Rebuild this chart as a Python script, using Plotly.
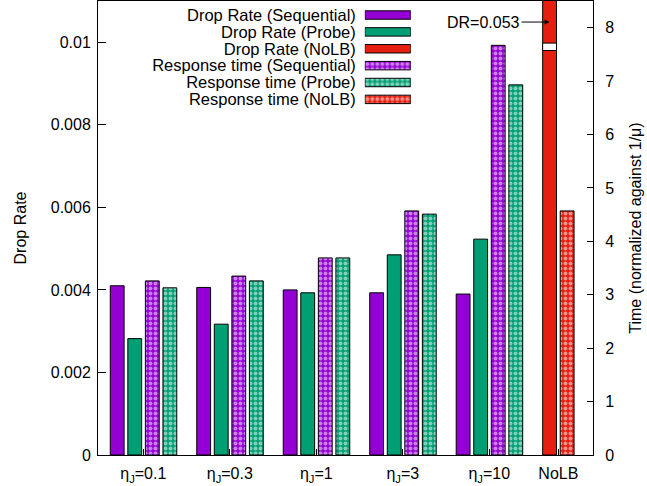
import plotly.graph_objects as go

# ---------------- data ----------------
eta_labels = ["η<sub>J</sub>=0.1", "η<sub>J</sub>=0.3", "η<sub>J</sub>=1",
              "η<sub>J</sub>=3", "η<sub>J</sub>=10"]
nolb_label = "NoLB"
dr_seq = [0.0041, 0.00406, 0.0040, 0.00393, 0.0039]
dr_probe = [0.00282, 0.00317, 0.00393, 0.00485, 0.00523]
rt_seq = [3.26, 3.35, 3.69, 4.57, 7.67]
rt_probe = [3.13, 3.26, 3.69, 4.51, 6.93]
dr_nolb = [0.053]
rt_nolb = [4.57]
dr_nolb_text = "DR=0.053"
legend_names = ["Drop Rate (Sequential)", "Drop Rate (Probe)", "Drop Rate (NoLB)",
                "Response time (Sequential)", "Response time (Probe)",
                "Response time (NoLB)"]
left_tickvals = [0, 0.002, 0.004, 0.006, 0.008, 0.01]
left_ticktext = ["0", "0.002", "0.004", "0.006", "0.008", "0.01"]
right_tickvals = [0, 1, 2, 3, 4, 5, 6, 7, 8]

# ---------------- style ----------------
PURPLE = "#9400D3"
GREEN = "#009E73"
RED = "#E51E10"
FONT = "Liberation Sans, Arial, Helvetica, sans-serif"
SLOT = 0.203
BW = 0.16
START = -0.382


def off(i):
    return START + i * SLOT


x_eta = list(range(len(eta_labels)))
x_nolb = [len(eta_labels)]
nolb_tick = x_nolb[0] + (off(0) + off(1)) / 2 + BW / 2


def solid(c):
    return dict(color=c, line=dict(color="black", width=1))


def patterned(c):
    return dict(color=c, line=dict(color="black", width=1),
                pattern=dict(shape=".", fgcolor="white", bgcolor=c,
                             size=5, solidity=0.5, fillmode="overlay"))


fig = go.Figure()
series = [
    (x_eta, dr_seq, 0, "y", solid(PURPLE), legend_names[0]),
    (x_eta, dr_probe, 1, "y", solid(GREEN), legend_names[1]),
    (x_eta, rt_seq, 2, "y2", patterned(PURPLE), legend_names[3]),
    (x_eta, rt_probe, 3, "y2", patterned(GREEN), legend_names[4]),
    (x_nolb, dr_nolb, 0, "y", solid(RED), legend_names[2]),
    (x_nolb, rt_nolb, 1, "y2", patterned(RED), legend_names[5]),
]
for xs, ys, slot, yax, mk, name in series:
    fig.add_trace(go.Bar(x=xs, y=ys, width=BW, offset=off(slot), marker=mk,
                         name=name, xaxis="x", yaxis=yax, showlegend=False))

# legend drawn as samples on a helper axis (text left, sample right)
legend_markers = [solid(PURPLE), solid(GREEN), solid(RED),
                  patterned(PURPLE), patterned(GREEN), patterned(RED)]
for name, mk in zip(legend_names, legend_markers):
    fig.add_trace(go.Bar(x=[1], y=[name], base=0, orientation="h", width=0.5,
                         marker=mk, xaxis="x3", yaxis="y3", showlegend=False,
                         hoverinfo="skip"))

axis_common = dict(showgrid=False, zeroline=False, linecolor="black",
                   linewidth=1, showline=True, tickcolor="black",
                   tickfont=dict(size=16, color="black"))

fig.update_layout(
    width=647, height=486,
    margin=dict(l=98, r=54, t=1, b=31),
    paper_bgcolor="white", plot_bgcolor="rgba(0,0,0,0)",
    font=dict(family=FONT, size=16, color="black"),
    barmode="overlay",
    showlegend=False,
    xaxis=dict(range=[-0.524, 5.2], tickvals=x_eta + [nolb_tick],
               ticktext=eta_labels + [nolb_label], ticks="inside", ticklen=6,
               ticklabelstandoff=4, mirror=True, **axis_common),
    yaxis=dict(range=[0, 0.011], tickvals=left_tickvals, ticktext=left_ticktext,
               ticks="inside", ticklen=8, ticklabelstandoff=3,
               title=dict(text="Drop Rate", standoff=20, font=dict(size=16)),
               **axis_common),
    yaxis2=dict(range=[0, 8.5], tickvals=right_tickvals, overlaying="y",
                side="right", ticks="inside", ticklen=6, ticklabelstandoff=8,
                title=dict(text="Time (normalized against 1/μ)", standoff=16,
                           font=dict(size=16)),
                **axis_common),
    xaxis3=dict(domain=[0.539, 0.632], anchor="y3", range=[0, 1], visible=False),
    yaxis3=dict(domain=[0.7647, 0.9877], anchor="x3", type="category",
                categoryorder="array", categoryarray=legend_names,
                tickmode="array", tickvals=legend_names, ticktext=legend_names,
                autorange="reversed", showline=False, showgrid=False,
                zeroline=False, ticks="", ticklabelstandoff=8,
                tickfont=dict(size=16.5, color="black")),
)

# axis-break marker on the clipped NoLB drop-rate bar
bx0 = x_nolb[0] + off(0)
fig.add_shape(type="rect", xref="x", yref="y", x0=bx0, x1=bx0 + BW,
              y0=0.0098, y1=0.00998, fillcolor="white",
              line=dict(color="black", width=1))
fig.add_annotation(x=bx0 + BW / 2, y=0.01049, xref="x", yref="y",
                   text=dr_nolb_text, showarrow=True, ax=-28, ay=0,
                   xanchor="right", arrowhead=2, arrowsize=1, arrowwidth=1,
                   arrowcolor="black", font=dict(size=16, color="black"))

fig.write_html("out.html", config={"displayModeBar": False},
               post_script="document.body.style.margin='0px';"
                           "document.body.style.padding='0px';")
